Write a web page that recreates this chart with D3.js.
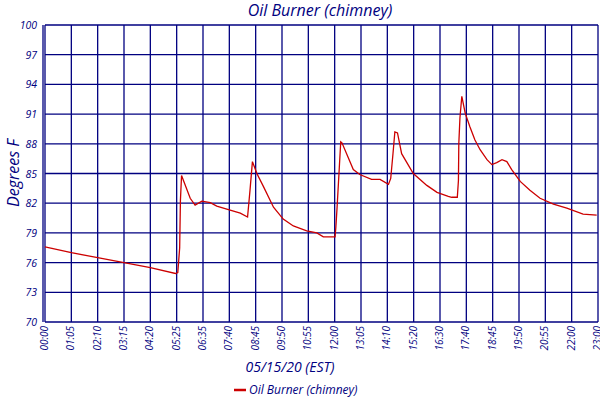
<!DOCTYPE html>
<html>
<head>
<meta charset="utf-8">
<script src="https://cdn.jsdelivr.net/npm/d3@7"></script>
<style>
  body { margin: 0; background: #fff; }
  text { font-family: "Open Sans", sans-serif; font-style: italic; fill: #000080; }
</style>
</head>
<body>
<svg id="chart" width="600" height="400"></svg>
<script>
// tick labels along the time axis (evenly spaced in the original)
const tickLabels = ["00:00","01:05","02:10","03:15","04:20","05:25","06:35","07:40","08:45","09:50","10:55",
  "12:00","13:05","14:10","15:20","16:30","17:40","18:45","19:50","20:55","22:00","23:00"];
const yTicks = [70, 73, 76, 79, 82, 85, 88, 91, 94, 97, 100];

// readings: minutes after midnight, degrees F
const minutes = [0,65,130,195,260,322,328,333,335,338,361,374,392,413,429,462,487,505,511,517,528,544,569,593,618,651,676,692,721,723,726,735,738,766,782,811,832,853,859,865,870,877,888,919,955,982,1012,1021,1036,1039,1040,1043,1048,1050,1057,1069,1081,1094,1111,1123,1135,1148,1160,1172,1193,1217,1242,1275,1308,1346,1377];
const temps = [77.6,77.0,76.5,76.0,75.5,74.9,75.0,77.5,82.3,84.8,82.5,81.8,82.2,82.05,81.7,81.3,81.0,80.6,83.3,86.2,85.0,83.7,81.6,80.4,79.7,79.2,79.0,78.6,78.6,79.6,81.6,88.2,88.1,85.4,84.9,84.4,84.4,83.9,84.5,87.0,89.2,89.1,87.0,85.0,83.8,83.1,82.7,82.6,82.6,84.3,88.0,90.6,92.8,92.4,91.1,89.7,88.4,87.4,86.4,85.9,86.1,86.4,86.2,85.4,84.2,83.3,82.5,81.9,81.5,80.9,80.8];

const toMin = s => +s.slice(0, 2) * 60 + +s.slice(3);
const tickMins = tickLabels.map(toMin);

const plotL = 45, plotR = 598, plotT = 25, plotB = 322;
const svg = d3.select("#chart");

// piecewise scale so the uneven tick times sit on an even grid
const x = d3.scaleLinear()
  .domain(tickMins)
  .range(tickMins.map((d, i) => plotL + i * (plotR - plotL) / (tickMins.length - 1)));
const y = d3.scaleLinear().domain([70, 100]).range([plotB, plotT]);

const navy = "#000080";

// grid
svg.append("g").selectAll("line").data(yTicks).join("line")
  .attr("x1", plotL).attr("x2", plotR)
  .attr("y1", d => y(d)).attr("y2", d => y(d))
  .attr("stroke", navy).attr("stroke-width", 1.3);
svg.append("g").selectAll("line").data(tickMins).join("line")
  .attr("x1", d => x(d)).attr("x2", d => x(d))
  .attr("y1", plotT).attr("y2", plotB)
  .attr("stroke", navy).attr("stroke-width", 1.3);
svg.append("line").attr("x1", plotL - 2).attr("x2", plotL - 2)
  .attr("y1", plotT).attr("y2", plotB).attr("stroke", navy).attr("stroke-width", 1.3);

// y labels
svg.append("g").selectAll("text").data(yTicks).join("text")
  .attr("x", 37).attr("y", d => y(d) + 4)
  .attr("text-anchor", "end").attr("font-size", 10.5)
  .text(d => d);

// x labels, rotated
svg.append("g").selectAll("text").data(tickMins).join("text")
  .attr("transform", d => `translate(${x(d) + 3},${plotB + 4}) rotate(-90)`)
  .attr("text-anchor", "end").attr("font-size", 10)
  .text((d, i) => tickLabels[i]);

// line
svg.append("path")
  .datum(minutes.map((m, i) => [m, temps[i]]))
  .attr("fill", "none").attr("stroke", "#cc0000").attr("stroke-width", 1.3)
  .attr("d", d3.line().x(d => x(d[0])).y(d => y(d[1])));

// titles
svg.append("text").attr("x", 320).attr("y", 16).attr("text-anchor", "middle")
  .attr("font-size", 16).text("Oil Burner (chimney)");
svg.append("text").attr("transform", "translate(19,173) rotate(-90)").attr("text-anchor", "middle")
  .attr("font-size", 16).text("Degrees F");
svg.append("text").attr("x", 290).attr("y", 372).attr("text-anchor", "middle")
  .attr("font-size", 14).text("05/15/20 (EST)");

// legend
svg.append("line").attr("x1", 234).attr("x2", 246).attr("y1", 390).attr("y2", 390)
  .attr("stroke", "#cc0000").attr("stroke-width", 2.5);
svg.append("text").attr("x", 249).attr("y", 394).attr("font-size", 12).text("Oil Burner (chimney)");
</script>
</body>
</html>
